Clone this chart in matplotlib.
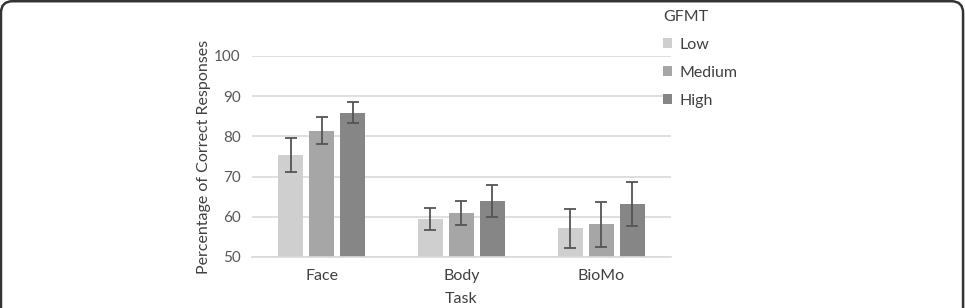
import matplotlib
matplotlib.use("Agg")
import matplotlib.pyplot as plt
import numpy as np
from matplotlib.patches import FancyBboxPatch

plt.rcParams['font.family'] = ['Lato', 'DejaVu Sans']

tasks = ["Face", "Body", "BioMo"]
groups = ["Low", "Medium", "High"]
means = {
    "Low":    [75.4, 59.4, 57.1],
    "Medium": [81.4, 60.9, 58.1],
    "High":   [85.9, 63.9, 63.2],
}
errors = {
    "Low":    [4.3, 2.8, 4.9],
    "Medium": [3.4, 3.0, 5.5],
    "High":   [2.6, 4.0, 5.4],
}
colors = {"Low": "#cfcfcf", "Medium": "#a6a6a6", "High": "#868686"}

fig = plt.figure(figsize=(9.65, 3.08), dpi=100)
ax = fig.add_axes([0.2611, 0.1656, 0.4342, 0.6526])

x = np.arange(len(tasks))
width = 0.179
step = 0.222
handles = []
for i, g in enumerate(groups):
    b = ax.bar(x + (i - 1) * step, means[g], width, color=colors[g], label=g, zorder=2)
    ax.errorbar(x + (i - 1) * step, means[g], yerr=errors[g], fmt='none',
                ecolor='#555555', elinewidth=1.3, capsize=4, capthick=1.3, zorder=3)
    handles.append(b)

ax.set_xlim(-0.5, 2.5)
ax.set_ylim(50, 100)
ax.set_yticks(range(50, 101, 10))
ax.set_xticks(x)
ax.set_xticklabels(tasks)
ax.yaxis.grid(True, color='#d9d9d9', linewidth=1.2, zorder=0)
ax.set_axisbelow(True)
for s in ['top', 'right', 'left']:
    ax.spines[s].set_visible(False)
ax.spines['bottom'].set_color('#d9d9d9')
ax.spines['bottom'].set_linewidth(1.2)
ax.tick_params(axis='both', length=0, colors='#595959', labelsize=11)
ax.tick_params(axis='x', pad=9, colors='#404040', labelsize=11.5)
ax.tick_params(axis='y', pad=8)
ax.set_xlabel("Task", color='#404040', fontsize=11.5, labelpad=6)
ax.set_ylabel("Percentage of Correct Responses", color='#404040', fontsize=11.5, labelpad=2)

leg = fig.legend(handles=handles, labels=groups, title="GFMT", loc='upper left',
                 bbox_to_anchor=(0.672, 1.015), frameon=False, fontsize=11.5,
                 title_fontsize=11.5, handlelength=0.55, handleheight=0.55,
                 labelspacing=0.88, handletextpad=0.5, alignment='left')
for t in leg.get_texts():
    t.set_color('#404040')
leg.get_title().set_color('#404040')

border = FancyBboxPatch((0.001, -0.2), 0.997, 1.196, boxstyle="round,pad=0,rounding_size=0.012",
                        transform=fig.transFigure, fill=False, edgecolor='#333333',
                        linewidth=1.8, mutation_aspect=3.13)
fig.patches.append(border)

fig.savefig("out.png", dpi=100)
